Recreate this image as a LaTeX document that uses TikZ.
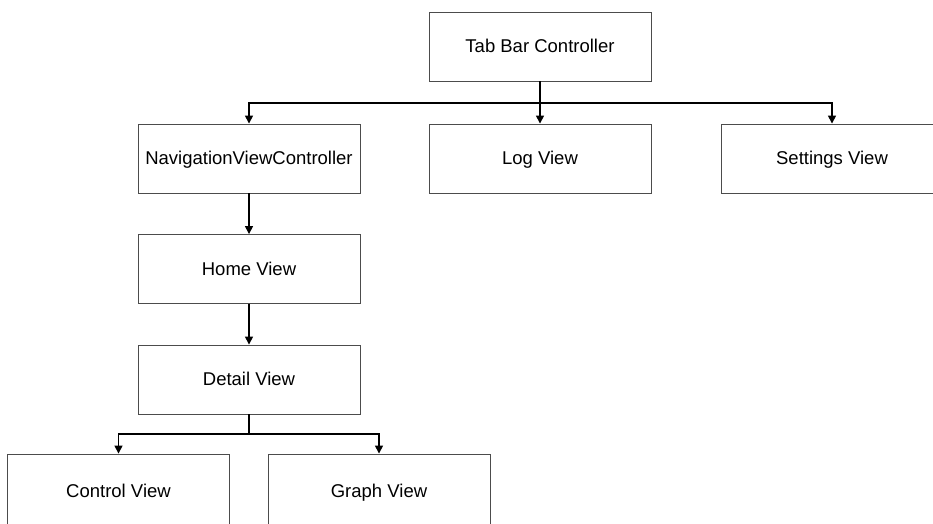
\documentclass[tikz,border=0pt]{standalone}
\usepackage{fontspec}
\setmainfont{Liberation Sans}
\usetikzlibrary{arrows.meta}
\begin{document}
\begin{tikzpicture}[x=1pt,y=-1pt,
  box/.style={draw=black!70,line width=0.9pt,fill=white,minimum width=222pt,minimum height=69pt,inner sep=0pt,text height=2.4ex,text depth=0pt,font=\fontsize{18.5}{22}\selectfont},
  arr/.style={draw=black,line width=1.5pt,-{Triangle[length=8pt,width=8pt]}},
  lin/.style={draw=black,line width=1.5pt}]
\useasboundingbox (0,0) rectangle (933,523);
\clip (0,0) rectangle (933,523);
\fill[white] (0,0) rectangle (933,523);
\node[box] (tab) at (540,46.5) {Tab Bar Controller};
\node[box] (nav) at (249,158.5) {NavigationViewController};
\node[box] (log) at (540,158.5) {Log View};
\node[box] (settings) at (832,158.5) {Settings View};
\node[box] (home) at (249,269) {Home View};
\node[box] (detail) at (249,379.5) {Detail View};
\node[box,minimum height=74pt] (control) at (118.5,491) {Control View};
\node[box,minimum height=74pt] (graph) at (379,491) {Graph View};
\coordinate (j1) at (540,103);
\coordinate (j2) at (249,434);
\draw[arr] (tab.south) -- (log.north);
\draw[arr] (j1) -| (nav.north);
\draw[arr] (j1) -| (settings.north);
\draw[arr] (nav.south) -- (home.north);
\draw[arr] (home.south) -- (detail.north);
\draw[lin] (detail.south) -- (j2);
\draw[arr] (j2) -| (control.north);
\draw[arr] (j2) -| (graph.north);
\end{tikzpicture}
\end{document}
